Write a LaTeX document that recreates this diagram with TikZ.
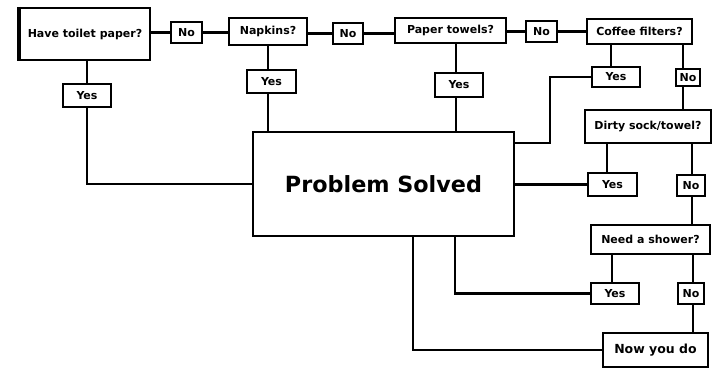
\documentclass[tikz,border=0pt]{standalone}
\usepackage{fontspec}
\setmainfont{DejaVu Sans}
\begin{document}
\begin{tikzpicture}[x=1pt,y=-1pt,
  box/.style={draw=black,line width=2.4pt,fill=white,inner sep=0pt,
    font=\bfseries\fontsize{11}{13}\selectfont},
  ans/.style={box,line width=2.9pt},
  link/.style={draw=black,line width=2.7pt}]
\useasboundingbox (0,0) rectangle (713,368);

% question boxes
\node[box,minimum width=130pt,minimum height=52pt] (toilet) at (85,34) {Have toilet paper?};
\node[box,minimum width=78pt,minimum height=27pt] (napkins) at (268,31.5) {Napkins?};
\node[box,minimum width=111pt,minimum height=25pt] (paper) at (450.5,30.5) {Paper towels?};
\node[box,minimum width=105pt,minimum height=25pt] (coffee) at (639.5,31.5) {Coffee filters?};
\node[box,minimum width=126pt,minimum height=33pt,line width=2pt] (dirty) at (648,126.5) {Dirty sock/towel?};
\node[box,minimum width=119pt,minimum height=29pt] (shower) at (650.5,239.5) {Need a shower?};
\node[box,minimum width=105pt,minimum height=34pt,font=\bfseries\fontsize{12.5}{14}\selectfont] (now) at (655.5,350) {Now you do};
\node[box,minimum width=261pt,minimum height=104pt,line width=2.8pt,
  font=\bfseries\fontsize{22.3}{26}\selectfont] (solved) at (383.5,184) {Problem Solved};

% answer boxes
\node[ans,minimum width=31pt,minimum height=21pt] (no1) at (186.5,32.5) {No};
\node[ans,minimum width=30pt,minimum height=21pt] (no2) at (348,33.5) {No};
\node[ans,minimum width=31pt,minimum height=21pt] (no3) at (541.5,31.5) {No};
\node[ans,minimum width=48pt,minimum height=23pt] (yesT) at (87,95.5) {Yes};
\node[ans,minimum width=49pt,minimum height=23pt] (yesN) at (271.5,81.5) {Yes};
\node[ans,minimum width=48pt,minimum height=24pt] (yesP) at (459,85) {Yes};
\node[ans,minimum width=48pt,minimum height=20pt] (yesC) at (616,77) {Yes};
\node[ans,minimum width=24pt,minimum height=17pt] (noC) at (688,77.5) {No};
\node[box,minimum width=49pt,minimum height=23pt] (yesD) at (612.5,184.5) {Yes};
\node[box,minimum width=28pt,minimum height=21pt] (noD) at (691,185.5) {No};
\node[ans,minimum width=48pt,minimum height=21pt] (yesS) at (615,293.5) {Yes};
\node[box,minimum width=26pt,minimum height=21pt] (noS) at (691,293.5) {No};

% heavier left edge of the first question
\draw[line width=4.5pt] (toilet.north west) -- (toilet.south west);

% "No" chain along the top
\draw[link] (toilet.east |- no1.west) -- (no1.west);
\draw[link] (no1.east) -- (no1.east -| napkins.west);
\draw[link] (napkins.east |- no2.west) -- (no2.west);
\draw[link] (no2.east) -- (no2.east -| paper.west);
\draw[link] (paper.east |- no3.west) -- (no3.west);
\draw[link] (no3.east) -- (no3.east -| coffee.west);

% toilet paper: yes
\draw[link] (toilet.south -| yesT.north) -- (yesT.north);
\draw[link] (yesT.south) |- (solved.west);

% napkins: yes
\coordinate (nx) at (268,0);
\draw[link] (napkins.south) -- (yesN.north -| nx);
\draw[link] (yesN.south -| nx) -- (solved.north -| nx);

% paper towels: yes
\coordinate (px) at (456,0);
\draw[link] (paper.south -| px) -- (yesP.north -| px);
\draw[link] (yesP.south -| px) -- (solved.north -| px);

% coffee filters: yes / no
\coordinate (cy) at (611,0);
\coordinate (cn) at (683,0);
\coordinate (bend) at (550,143);
\draw[link] (coffee.south -| cy) -- (yesC.north -| cy);
\draw[link] (yesC.west) -| (bend) -- (bend -| solved.east);
\draw[link] (coffee.south -| cn) -- (noC.north -| cn);
\draw[link] (noC.south -| cn) -- (dirty.north -| cn);

% dirty sock/towel: yes / no
\coordinate (dy) at (607,0);
\coordinate (dn) at (692,0);
\draw[link] (dirty.south -| dy) -- (yesD.north -| dy);
\draw[link] (solved.east |- yesD.west) -- (yesD.west);
\draw[link] (dirty.south -| dn) -- (noD.north -| dn);
\draw[link] (noD.south -| dn) -- (shower.north -| dn);

% need a shower: yes / no
\coordinate (sy) at (612,0);
\coordinate (sn) at (693,0);
\coordinate (ly) at (455,0);
\coordinate (ln) at (413,0);
\draw[link] (shower.south -| sy) -- (yesS.north -| sy);
\draw[link] (solved.south -| ly) |- (yesS.west);
\draw[link] (shower.south -| sn) -- (noS.north -| sn);
\draw[link] (noS.south -| sn) -- (now.north -| sn);
\draw[link] (solved.south -| ln) |- (now.west);
\end{tikzpicture}
\end{document}
